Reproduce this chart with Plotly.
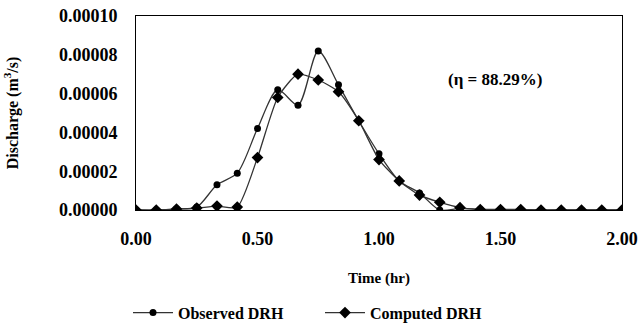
import plotly.graph_objects as go

time_hr = [0.0, 0.0833, 0.1667, 0.25, 0.3333, 0.4167, 0.5, 0.5833, 0.6667, 0.75,
           0.8333, 0.9167, 1.0, 1.0833, 1.1667, 1.25, 1.3333, 1.4167, 1.5, 1.5833,
           1.6667, 1.75, 1.8333, 1.9167, 2.0]
observed = [0.0, 0.0, 0.0000005, 0.0000015, 0.000013, 0.000019, 0.000042, 0.000062,
            0.000054, 0.000082, 0.0000645, 0.000046, 0.000029, 0.000015, 0.0000088,
            0.0, 0.0000008, 0.0000003, 0.0000003, 0.0000003, 0.0, 0.0, 0.0, 0.0, 0.0]
computed = [0.0, 0.0, 0.0000005, 0.000001, 0.000002, 0.0000015, 0.000027, 0.000058,
            0.000070, 0.000067, 0.000061, 0.000046, 0.000026, 0.000015, 0.0000077,
            0.000004, 0.0000012, 0.0000002, 0.0000002, 0.0000002, 0.0, 0.0, 0.0, 0.0, 0.0]
y_ticks = [0.0, 0.00002, 0.00004, 0.00006, 0.00008, 0.00010]
x_ticks = [0.0, 0.5, 1.0, 1.5, 2.0]

font_family = "Liberation Serif"

fig = go.Figure()
fig.add_trace(go.Scatter(
    x=time_hr, y=observed, name="<b>Observed DRH</b>", mode="lines+markers",
    line=dict(color="#333333", width=1.3, shape="spline", smoothing=0.8),
    marker=dict(symbol="circle", size=7, color="black"),
))
fig.add_trace(go.Scatter(
    x=time_hr, y=computed, name="<b>Computed DRH</b>", mode="lines+markers",
    line=dict(color="#333333", width=1.3, shape="spline", smoothing=0.6),
    marker=dict(symbol="diamond", size=9, color="black"),
))

fig.add_annotation(
    x=1.477, y=0.0000675, xref="x", yref="y", text="<b>(η = 88.29%)</b>",
    showarrow=False, font=dict(family=font_family, size=17, color="black"),
)

fig.update_layout(
    width=640, height=324,
    margin=dict(l=136, r=18, t=16, b=114, autoexpand=False),
    paper_bgcolor="white", plot_bgcolor="white",
    font=dict(family=font_family, size=18, color="black"),
    showlegend=True,
    legend=dict(orientation="h", xref="container", yref="container",
                x=0.2, y=0.035, xanchor="left", yanchor="middle",
                font=dict(family=font_family, size=16, color="black"),
                itemwidth=40, entrywidth=137, tracegroupgap=0),
    xaxis=dict(range=[0, 2.0], tickvals=x_ticks,
               ticktext=["<b>%.2f</b>" % v for v in x_ticks],
               showgrid=False, zeroline=False, showline=True, mirror=True,
               linecolor="black", linewidth=1, ticks="", automargin=False,
               ticklabelstandoff=12,
               title=dict(text="<b>Time (hr)</b>", font=dict(size=15), standoff=24)),
    yaxis=dict(range=[0, 0.00010], tickvals=y_ticks,
               ticktext=["<b>%.5f</b>" % v for v in y_ticks],
               showgrid=False, zeroline=False, showline=True, mirror=True,
               linecolor="black", linewidth=1, ticks="", automargin=False,
               ticklabelstandoff=14,
               title=dict(text="<b>Discharge (m<sup>3</sup>/s)</b>", font=dict(size=16), standoff=36)),
)

fig.write_html("out.html", config={"displayModeBar": False},
               post_script="document.body.style.margin='0';")
